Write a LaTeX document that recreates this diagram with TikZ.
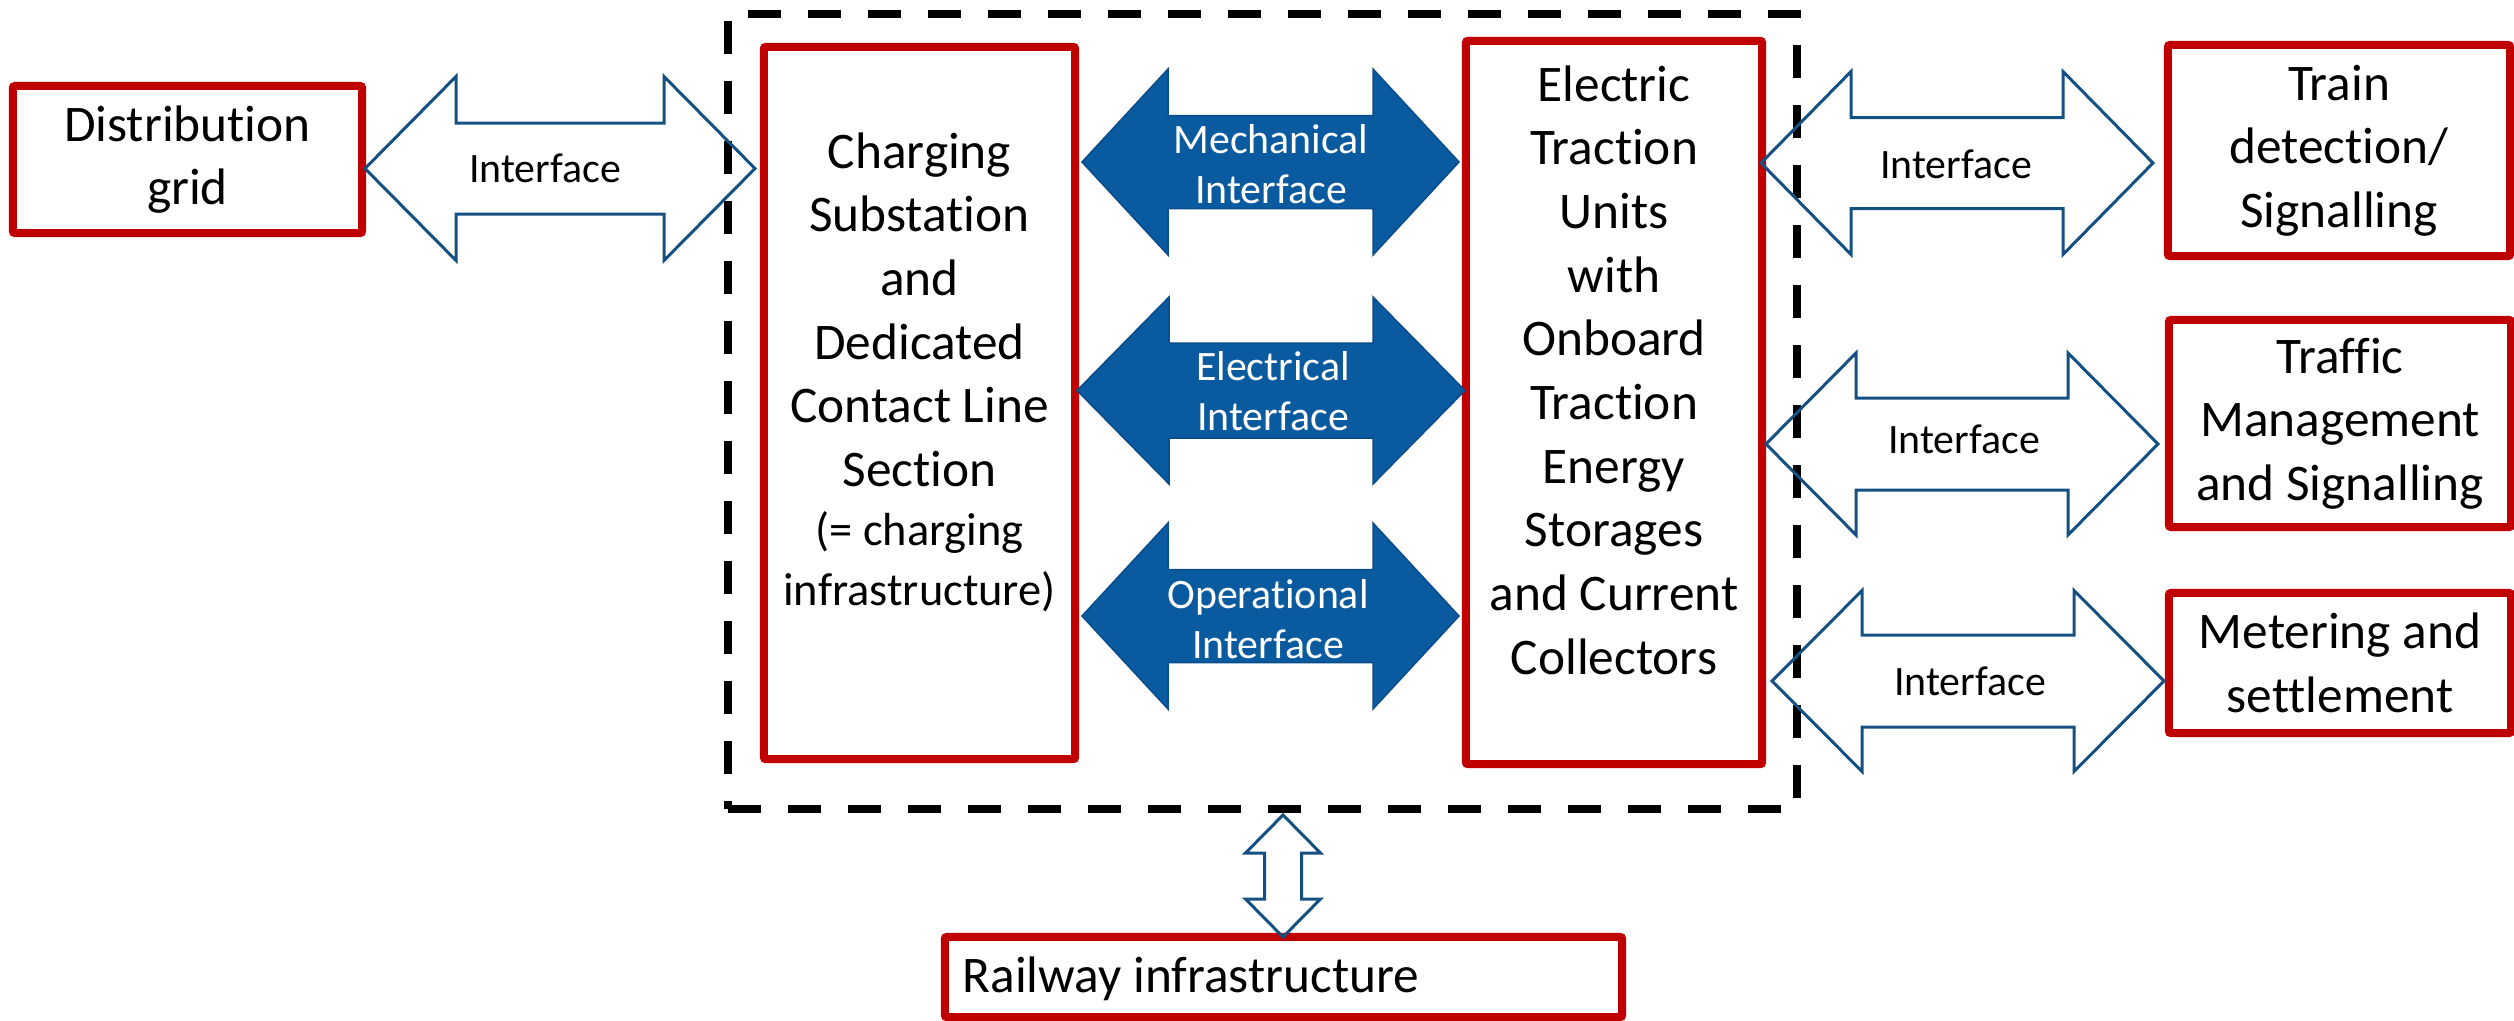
\documentclass[tikz,border=0pt]{standalone}
\usepackage{fontspec}
\setmainfont[RawFeature={-liga;-clig;-calt;-dlig}]{Carlito}
\usetikzlibrary{calc}

\definecolor{boxred}{RGB}{192,0,0}
\definecolor{arrowblue}{RGB}{10,90,160}
\definecolor{arrowedge}{RGB}{8,76,138}
\definecolor{outlineblue}{RGB}{20,80,130}

\newcommand\smallfont{\fontsize{13.2}{16.8}\selectfont}

% horizontal double block arrow: style, left tip, right tip, head length, half head width, half shaft width
\newcommand\hdblarrow[6]{%
  \draw[#1] (#2) -- ($(#2)+(#4,-#5)$) -- ($(#2)+(#4,-#6)$) -- ($(#3)+(-#4,-#6)$)
    -- ($(#3)+(-#4,-#5)$) -- (#3) -- ($(#3)+(-#4,#5)$) -- ($(#3)+(-#4,#6)$)
    -- ($(#2)+(#4,#6)$) -- ($(#2)+(#4,#5)$) -- cycle;}
% vertical double block arrow: style, top tip, bottom tip, head length, half head width, half shaft width
\newcommand\vdblarrow[6]{%
  \draw[#1] (#2) -- ($(#2)+(#5,#4)$) -- ($(#2)+(#6,#4)$) -- ($(#3)+(#6,-#4)$)
    -- ($(#3)+(#5,-#4)$) -- (#3) -- ($(#3)+(-#5,-#4)$) -- ($(#3)+(-#6,-#4)$)
    -- ($(#2)+(-#6,#4)$) -- ($(#2)+(-#5,#4)$) -- cycle;}

\tikzset{
  redbox/.style={draw=boxred, line width=0.08cm, rounded corners=0.02cm,
    inner sep=0pt, outer sep=0pt, fill=white},
  maintext/.style={align=center, font=\fontsize{14.6}{18.1}\selectfont, inner sep=0pt},
  systembox/.style={draw=black, line width=0.08cm, dash pattern=on 0.33cm off 0.27cm,
    inner sep=0pt, outer sep=0pt},
  hollowarrow/.style={draw=outlineblue, line width=0.03cm, line join=miter, miter limit=10},
  bluearrow/.style={fill=arrowblue, draw=arrowedge, line width=0.015cm, line join=miter, miter limit=10},
  ifacelabel/.style={font=\fontsize{11.9}{14.2}\selectfont, inner sep=0pt},
  whitelabel/.style={ifacelabel, text=white, align=center},
}

\begin{document}
\begin{tikzpicture}[x=0.01cm, y=-0.01cm]
\useasboundingbox (0,0) rectangle (2514,1021);

% system boundary
\node[systembox, minimum width=10.69cm, minimum height=7.95cm] (sys) at (1262.5,411.5) {};

% blocks
\node[redbox, maintext, minimum width=3.49cm, minimum height=1.47cm] (dist) at (187.5,159.5) {Distribution\\grid};

\node[redbox, minimum width=3.11cm, minimum height=7.12cm] (chg) at (919.5,403) {};
\node[maintext] (chgtxt) at (919.5,372) {Charging\\Substation\\and\\Dedicated\\Contact Line\\Section\\[-1.2pt]\smallfont (= charging\\[-1.2pt]\smallfont infrastructure)};

\node[redbox, minimum width=2.96cm, minimum height=7.23cm] (etu) at (1614,402.5) {};
\node[maintext] (etutxt) at (1614,370) {Electric\\Traction\\Units\\with\\Onboard\\Traction\\Energy\\Storages\\and Current\\Collectors};

\node[redbox, maintext, minimum width=3.42cm, minimum height=2.11cm] (train) at (2339,150.5) {Train\\detection/\\Signalling};
\node[redbox, maintext, minimum width=3.42cm, minimum height=2.07cm] (traffic) at (2340,423.5) {Traffic\\Management\\and Signalling};
\node[redbox, maintext, minimum width=3.42cm, minimum height=1.40cm] (meter) at (2340,663) {Metering and\\settlement};

\node[redbox, minimum width=6.77cm, minimum height=0.80cm] (rail) at (1283.5,977) {};
\node[maintext, anchor=west] (railtxt) at (962,979) {Railway infrastructure};

% arrow end points
\coordinate (gL) at (365,168.5);   \coordinate (gR) at (755,168.5);
\coordinate (mL) at (1082,162);    \coordinate (mR) at (1459,162);
\coordinate (eL) at (1077,390.5);  \coordinate (eR) at (1465,390.5);
\coordinate (oL) at (1082,616);    \coordinate (oR) at (1459,616);
\coordinate (tL) at (1761,163);    \coordinate (tR) at (2153,163);
\coordinate (fL) at (1766,444);    \coordinate (fR) at (2158,444);
\coordinate (sL) at (1772,681);    \coordinate (sR) at (2164,681);
\coordinate (rT) at (1283,815);    \coordinate (rB) at (1283,937);

% interfaces inside the system
\hdblarrow{bluearrow}{mL}{mR}{86}{93}{46.5}
\hdblarrow{bluearrow}{eL}{eR}{92}{93.5}{47.5}
\hdblarrow{bluearrow}{oL}{oR}{86}{93}{46.5}
\node[whitelabel] (mlab) at (1271,164) {Mechanical\\Interface};
\node[whitelabel] (elab) at (1273,391.5) {Electrical\\Interface};
\node[whitelabel] (olab) at (1268,619.5) {Operational\\Interface};

% external interfaces
\hdblarrow{hollowarrow}{gL}{gR}{91}{92}{45.5}
\hdblarrow{hollowarrow}{tL}{tR}{90}{91.5}{45.5}
\hdblarrow{hollowarrow}{fL}{fR}{90}{91}{46}
\hdblarrow{hollowarrow}{sL}{sR}{90}{90.5}{46}
\vdblarrow{hollowarrow}{rT}{rB}{38}{37.5}{18.5}

\node[ifacelabel] (glab) at (545,168) {Interface};
\node[ifacelabel] (tlab) at (1956,164) {Interface};
\node[ifacelabel] (flab) at (1964,439) {Interface};
\node[ifacelabel] (slab) at (1970,681) {Interface};
\end{tikzpicture}
\end{document}
